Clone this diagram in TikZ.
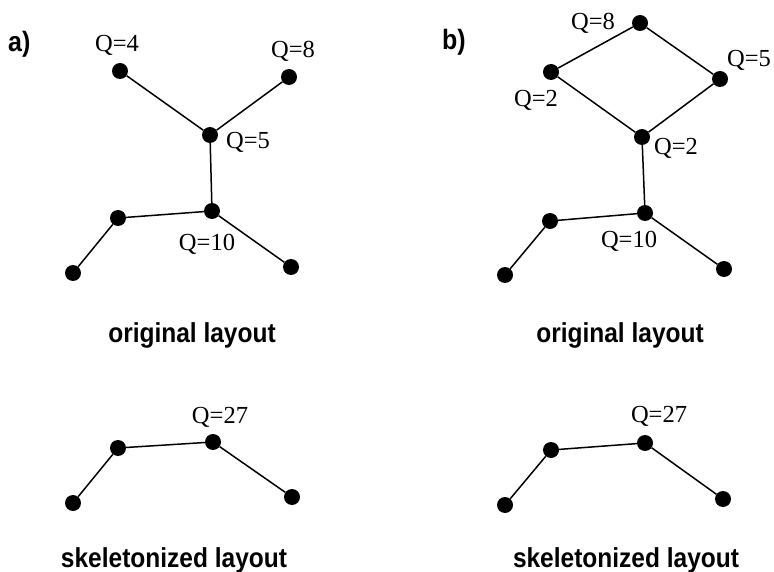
\documentclass[tikz,border=0pt]{standalone}
\usepackage{fontspec}
\setmainfont{Liberation Serif}
\newfontfamily\labelfont{Liberation Sans}
\begin{document}
\begin{tikzpicture}[x=1pt,y=-1pt,
  vertex/.style={circle,fill=black,inner sep=0pt,minimum size=16pt},
  edge/.style={line width=1.5pt},
  qlabel/.style={anchor=base,inner sep=0pt,font=\fontsize{24.5}{27}\selectfont},
  caption/.style={anchor=base,inner sep=0pt,font=\labelfont\bfseries\fontsize{24.5}{28}\selectfont},
  panel/.style={anchor=base west,inner sep=0pt,font=\labelfont\bfseries\fontsize{25}{28}\selectfont}]
\useasboundingbox (0,0) rectangle (774,572);

% ---------- panel a: original layout ----------
\node[panel] (pa) at (8,52) {\scalebox{1}[1.12]{a)}};
\node[vertex] (a1) at (120,71) {};
\node[vertex] (a2) at (289,77) {};
\node[vertex] (a3) at (210,135) {};
\node[vertex] (a4) at (212,211) {};
\node[vertex] (a5) at (118,218) {};
\node[vertex] (a6) at (73,273) {};
\node[vertex] (a7) at (291,267) {};
\draw[edge] (a1) -- (a3) -- (a2);
\draw[edge] (a3) -- (a4);
\draw[edge] (a6) -- (a5) -- (a4) -- (a7);
\node[qlabel] (qa1) at (117,52) {Q=4};
\node[qlabel] (qa2) at (293,58) {Q=8};
\node[qlabel] (qa3) at (248,149) {Q=5};
\node[qlabel] (qa4) at (207,251) {Q=10};
\node[caption] (ca1) at (192,342) {\scalebox{1}[1.12]{original layout}};

% ---------- panel a: skeletonized layout ----------
\node[vertex] (s1) at (73,503) {};
\node[vertex] (s2) at (118,448) {};
\node[vertex] (s3) at (213,442) {};
\node[vertex] (s4) at (292,497) {};
\draw[edge] (s1) -- (s2) -- (s3) -- (s4);
\node[qlabel] (qs1) at (220,423) {Q=27};
\node[caption] (ca2) at (174,567) {\scalebox{1}[1.12]{skeletonized layout}};

% ---------- panel b: original layout ----------
\node[panel] (pb) at (442,50) {\scalebox{1}[1.12]{b)}};
\node[vertex] (b1) at (640,23) {};
\node[vertex] (b2) at (551,72) {};
\node[vertex] (b3) at (720,79) {};
\node[vertex] (b4) at (642,137) {};
\node[vertex] (b5) at (645,213) {};
\node[vertex] (b6) at (550,221) {};
\node[vertex] (b7) at (505,275) {};
\node[vertex] (b8) at (724,269) {};
\draw[edge] (b2) -- (b1) -- (b3) -- (b4) -- (b2);
\draw[edge] (b4) -- (b5);
\draw[edge] (b7) -- (b6) -- (b5) -- (b8);
\node[qlabel] (qb1) at (593,30) {Q=8};
\node[qlabel] (qb2) at (536,107) {Q=2};
\node[qlabel] (qb3) at (749,67) {Q=5};
\node[qlabel] (qb4) at (676,155) {Q=2};
\node[qlabel] (qb5) at (629,248) {Q=10};
\node[caption] (cb1) at (620,342) {\scalebox{1}[1.12]{original layout}};

% ---------- panel b: skeletonized layout ----------
\node[vertex] (t1) at (505,505) {};
\node[vertex] (t2) at (551,450) {};
\node[vertex] (t3) at (645,443) {};
\node[vertex] (t4) at (723,499) {};
\draw[edge] (t1) -- (t2) -- (t3) -- (t4);
\node[qlabel] (qt1) at (659,422) {Q=27};
\node[caption] (cb2) at (626,567) {\scalebox{1}[1.12]{skeletonized layout}};
\end{tikzpicture}
\end{document}
